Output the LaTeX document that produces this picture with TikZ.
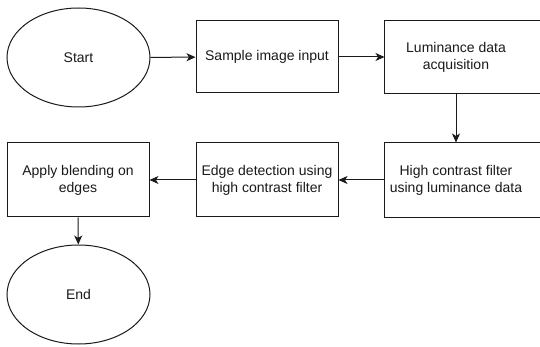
\documentclass[tikz,border=0pt]{standalone}
\usepackage{fontspec}
\setmainfont{Liberation Sans}
\usetikzlibrary{shapes.geometric,arrows.meta}
\definecolor{ink}{HTML}{1A1A1A}
\tikzset{
  flowbox/.style={draw=ink, line width=1pt, rectangle, minimum width=142pt, minimum height=72pt, inner sep=0pt, align=center, text=ink, font=\fontsize{14}{16.8}\selectfont},
  openbox/.style={flowbox, draw=none},
  frame/.style={draw=ink, line width=1pt},
  terminal/.style={draw=ink, line width=1pt, ellipse, minimum width=143pt, minimum height=99pt, inner sep=0pt, text=ink, font=\fontsize{14}{16.8}\selectfont},
  flow/.style={draw=ink, line width=1pt, -{Stealth[length=9pt,width=8pt,inset=2.5pt]}}
}
\begin{document}
\begin{tikzpicture}[x=1pt,y=-1pt]
\useasboundingbox (0,0) rectangle (540,347);
\clip (0,0) rectangle (540,347);
\fill[white] (0,0) rectangle (540,347);
\node[terminal] (start) at (78.5,57.5) {Start};
\node[flowbox] (s1) at (267,57) {Sample image input};
\node[openbox] (s2) at (456,57) {Luminance data\\acquisition};
\node[openbox, minimum height=74pt] (s3) at (456,180) {High contrast filter\\using luminance data};
\node[flowbox, minimum height=74pt] (s4) at (267,180) {Edge detection using\\high contrast filter};
\node[flowbox, minimum height=74pt] (s5) at (78,180) {Apply blending on\\edges};
\node[terminal] (end) at (78.5,294.5) {End};
\draw[frame] ([xshift=40pt]s2.north east) -- (s2.north west) -- (s2.south west) -- ([xshift=40pt]s2.south east);
\draw[frame] ([xshift=40pt]s3.north east) -- (s3.north west) -- (s3.south west) -- ([xshift=40pt]s3.south east);
\draw[flow] (start) -- (s1);
\draw[flow] (s1) -- (s2);
\draw[flow] (s2) -- (s3);
\draw[flow] (s3) -- (s4);
\draw[flow] (s4) -- (s5);
\draw[flow] (s5) -- (end);
\end{tikzpicture}
\end{document}
